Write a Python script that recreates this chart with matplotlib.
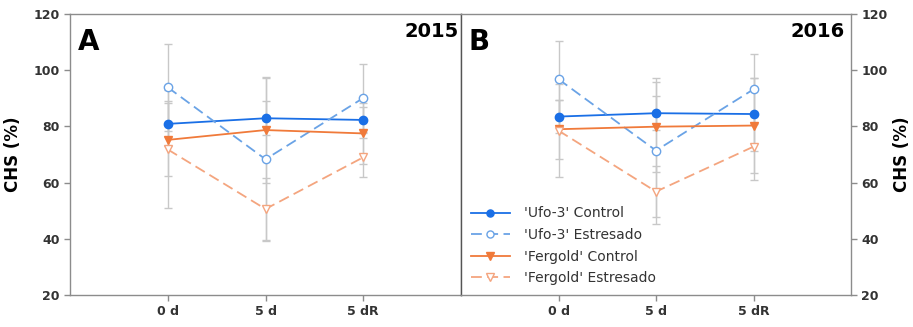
import numpy as np
import matplotlib.pyplot as plt

days = ['0 d', '5 d', '5 dR']
x = np.arange(1, 4)

# 2015
ufo_c_15 = [80.9, 82.9, 82.3]
ufo_c_15_err = [8.0, 6.0, 4.5]
ufo_e_15 = [93.9, 68.3, 90.1]
ufo_e_15_err = [15.5, 29.0, 12.0]
ferg_c_15 = [75.2, 78.7, 77.5]
ferg_c_15_err = [13.0, 19.0, 11.0]
ferg_e_15 = [71.8, 50.6, 69.0]
ferg_e_15_err = [21.0, 11.0, 7.0]

# 2016
ufo_c_16 = [83.5, 84.7, 84.4]
ufo_c_16_err = [6.0, 6.0, 13.0]
ufo_e_16 = [96.8, 71.4, 93.2]
ufo_e_16_err = [13.5, 26.0, 12.5]
ferg_c_16 = [79.0, 79.9, 80.3]
ferg_c_16_err = [10.5, 16.0, 17.0]
ferg_e_16 = [78.5, 56.8, 72.8]
ferg_e_16_err = [16.5, 9.0, 12.0]

labels = ["'Ufo-3' Control", "'Ufo-3' Estresado", "'Fergold' Control", "'Fergold' Estresado"]
blue = '#1a6fe6'
lblue = '#6aa3e6'
orange = '#f07a3a'
lorange = '#f4a57f'
errc = '#c8c8c8'
spinec = '#8c8c8c'

fig = plt.figure(figsize=(9.13, 3.27), dpi=100)
ax1 = fig.add_axes([70 / 913, 32 / 327, 391 / 913, 281 / 327])
ax2 = fig.add_axes([461 / 913, 32 / 327, 390 / 913, 281 / 327])


def draw(ax, data):
    styles = [
        dict(color=blue, ls='-', marker='o', mfc=blue, mec=blue, ms=6),
        dict(color=lblue, ls=(0, (6, 3)), marker='o', mfc='white', mec=lblue, ms=6),
        dict(color=orange, ls='-', marker='v', mfc=orange, mec=orange, ms=6),
        dict(color=lorange, ls=(0, (6, 3)), marker='v', mfc='white', mec=lorange, ms=6),
    ]
    for (vals, err), st, lab in zip(data, styles, labels):
        ax.errorbar(x, vals, yerr=err, fmt='none', ecolor=errc, elinewidth=1,
                    capsize=3, capthick=1, zorder=1)
        ax.plot(x, vals, lw=1.3, label=lab, zorder=3, **st)
    ax.set_xlim(0, 4)
    ax.set_ylim(20, 120)
    ax.set_xticks(x)
    ax.set_xticklabels(days, fontsize=9, fontweight='bold', color='#333333')
    ax.set_yticks(np.arange(20, 121, 20))
    for s in ax.spines.values():
        s.set_color(spinec)
        s.set_linewidth(1)
    ax.tick_params(axis='both', colors=spinec, labelcolor='#333333', length=4, width=1)
    for t in ax.get_yticklabels():
        t.set_fontweight('bold')
        t.set_fontsize(9)


draw(ax1, [(ufo_c_15, ufo_c_15_err), (ufo_e_15, ufo_e_15_err),
           (ferg_c_15, ferg_c_15_err), (ferg_e_15, ferg_e_15_err)])
draw(ax2, [(ufo_c_16, ufo_c_16_err), (ufo_e_16, ufo_e_16_err),
           (ferg_c_16, ferg_c_16_err), (ferg_e_16, ferg_e_16_err)])

ax1.set_ylabel('CHS (%)', fontsize=12, fontweight='bold', labelpad=8)

ax2.yaxis.tick_right()
ax2.yaxis.set_label_position('right')
ax2.set_ylabel('CHS (%)', fontsize=12, fontweight='bold', labelpad=4, rotation=90)
ax2.spines['left'].set_color('#555555')
for t in ax2.get_yticklabels():
    t.set_fontweight('bold')
    t.set_fontsize(9)

ax1.text(0.02, 0.95, 'A', transform=ax1.transAxes, fontsize=20, fontweight='bold', va='top', ha='left')
ax1.text(0.995, 0.97, '2015', transform=ax1.transAxes, fontsize=14, fontweight='bold', va='top', ha='right')
ax2.text(0.02, 0.95, 'B', transform=ax2.transAxes, fontsize=20, fontweight='bold', va='top', ha='left')
ax2.text(0.985, 0.97, '2016', transform=ax2.transAxes, fontsize=14, fontweight='bold', va='top', ha='right')

leg = ax2.legend(loc='lower left', bbox_to_anchor=(0.0, 0.0), frameon=False, fontsize=10,
                 handlelength=2.8, handletextpad=1.0, labelspacing=0.55, borderaxespad=0.3,
                 markerscale=0.85)
for t in leg.get_texts():
    t.set_color('#333333')

fig.savefig('out.png', dpi=100)
